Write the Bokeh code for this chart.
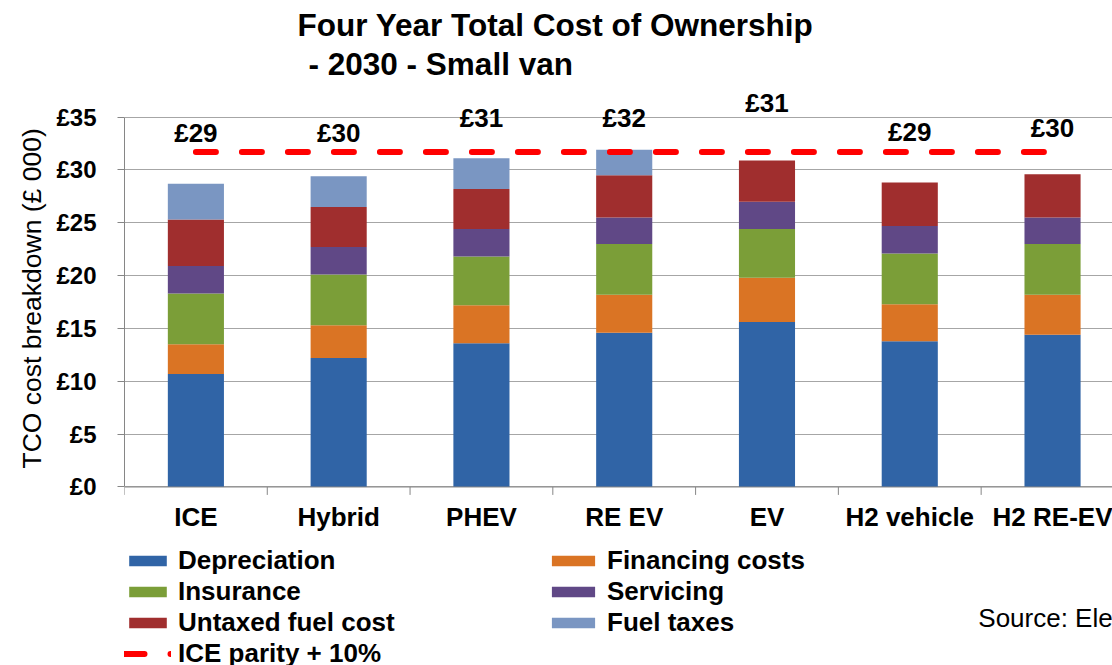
from bokeh.plotting import figure
from bokeh.models import (ColumnDataSource, Range1d, FixedTicker, PrintfTickFormatter,
                          Legend, LegendItem, LabelSet, Label, Span, Title)
from bokeh.core.properties import value
from bokeh.embed import file_html
from bokeh.resources import INLINE

# ---- data ----
categories = ["ICE", "Hybrid", "PHEV", "RE EV", "EV", "H2 vehicle", "H2 RE-EV"]
depreciation = [10.7, 12.2, 13.6, 14.6, 15.6, 13.8, 14.4]
financing = [2.8, 3.1, 3.6, 3.6, 4.2, 3.5, 3.8]
insurance = [4.8, 4.8, 4.6, 4.8, 4.6, 4.8, 4.8]
servicing = [2.6, 2.6, 2.6, 2.5, 2.6, 2.6, 2.5]
untaxed_fuel = [4.4, 3.8, 3.8, 4.0, 3.9, 4.1, 4.1]
fuel_taxes = [3.4, 2.9, 2.9, 2.4, 0.0, 0.0, 0.0]
total_labels = ["£29", "£30", "£31", "£32", "£31", "£29", "£30"]
label_y = [33.5, 33.5, 34.9, 34.9, 36.3, 33.6, 34.0]
ice_parity = [31.7, 31.7, 31.7, 31.7, 31.7, 31.7, 31.7]
y_ticks = [0, 5, 10, 15, 20, 25, 30, 35]

series = ["Depreciation", "Financing costs", "Insurance", "Servicing",
          "Untaxed fuel cost", "Fuel taxes"]
colors = ["#3064A6", "#DA7424", "#7B9E38", "#604886", "#A02E2E", "#7A96C2"]

FONT = "Liberation Sans"
AXIS_COL = "#868686"

xc = [i + 0.5 for i in range(len(categories))]
bounds = list(range(len(categories)))
src = ColumnDataSource(dict(
    x=xc, cat=categories,
    **{"Depreciation": depreciation, "Financing costs": financing,
       "Insurance": insurance, "Servicing": servicing,
       "Untaxed fuel cost": untaxed_fuel, "Fuel taxes": fuel_taxes},
    label=total_labels, ly=label_y, parity=ice_parity))

# frame covers the canvas except the left axis panel; the value axis spans 0..35
p = figure(width=1112, height=665, output_backend="svg", toolbar_location=None,
           x_range=Range1d(0, 6.92), y_range=Range1d(-16.89, 46.03),
           min_border_left=124, min_border_right=0, min_border_top=0,
           min_border_bottom=0)
p.outline_line_color = None
p.background_fill_color = "white"
p.border_fill_color = "white"
p.xaxis.visible = False

bars = p.vbar_stack(series, x="x", width=0.393, source=src, color=colors,
                    line_color=None)
line = p.line(x="x", y="parity", source=src, line_color="#FF0000", line_width=6,
              line_dash="20 26", line_cap="round")

# grid & value axis
p.xgrid.grid_line_color = None
p.ygrid.grid_line_color = "#A6A6A6"
p.ygrid.grid_line_width = 1
p.ygrid.ticker = FixedTicker(ticks=y_ticks)

p.yaxis.ticker = FixedTicker(ticks=y_ticks)
p.yaxis.bounds = (0, 35)
p.yaxis.formatter = PrintfTickFormatter(format="£%d")
p.yaxis.axis_line_color = AXIS_COL
p.yaxis.major_tick_line_color = AXIS_COL
p.yaxis.major_tick_out = 7
p.yaxis.major_tick_in = 0
p.yaxis.minor_tick_line_color = None
p.yaxis.major_label_standoff = 21
p.yaxis.major_label_text_font = FONT
p.yaxis.major_label_text_font_style = "bold"
p.yaxis.major_label_text_font_size = "24px"
p.yaxis.major_label_text_color = "black"

# value-axis title, placed beside the axis along the 0..35 span
p.add_layout(Title(text="TCO cost breakdown (£ 000)", align="left", offset=197,
                   standoff=13, text_font=FONT, text_font_style="normal",
                   text_font_size="26.5px", text_color="black"), "left")

# category axis: baseline, boundary ticks, labels
p.add_layout(Span(location=0, dimension="width", line_color=AXIS_COL, line_width=1))
p.segment(x0=bounds, y0=[0] * len(bounds), x1=bounds, y1=[-0.75] * len(bounds),
          line_color=AXIS_COL, line_width=1)
p.text(x="x", y=-2.88, text="cat", source=src, text_align="center",
       text_baseline="middle", text_font=value(FONT), text_font_style="bold",
       text_font_size="26px", text_color="black")

# total labels
p.add_layout(LabelSet(x="x", y="ly", text="label", source=src, text_align="center",
                      text_baseline="middle", text_font=value(FONT),
                      text_font_style="bold", text_font_size="26px",
                      text_color="black"))

# title and source
p.add_layout(Label(x=3.018, y=43.71, text="Four Year Total Cost of Ownership",
                   text_align="center", text_baseline="middle", text_font=FONT,
                   text_font_style="bold", text_font_size="31.5px", text_color="black"))
p.add_layout(Label(x=1.289, y=40.02, text="- 2030 - Small van",
                   text_align="left", text_baseline="middle", text_font=FONT,
                   text_font_style="bold", text_font_size="31.5px", text_color="black"))
p.add_layout(Label(x=5.98, y=-12.39, text="Source: Element Energy",
                   text_align="left", text_baseline="middle", text_font=FONT,
                   text_font_style="normal", text_font_size="26px", text_color="black"))

# legends
def mk_legend(items, loc, gw):
    return Legend(items=items, location=loc, orientation="vertical",
                  glyph_width=gw, glyph_height=13, label_standoff=7, label_height=31,
                  spacing=0, padding=0, margin=0, border_line_color=None,
                  background_fill_alpha=0, label_text_font=FONT,
                  label_text_font_style="bold", label_text_font_size="26px",
                  label_text_color="black")

col1 = [LegendItem(label="Depreciation", renderers=[bars[0]]),
        LegendItem(label="Insurance", renderers=[bars[2]]),
        LegendItem(label="Untaxed fuel cost", renderers=[bars[4]]),
        LegendItem(label="ICE parity + 10%", renderers=[line])]
col2 = [LegendItem(label="Financing costs", renderers=[bars[1]]),
        LegendItem(label="Servicing", renderers=[bars[3]]),
        LegendItem(label="Fuel taxes", renderers=[bars[5]])]
p.add_layout(mk_legend(col1, (0, -4), 47))
p.add_layout(mk_legend(col2, (422, 27), 54))

open("out.html", "w").write(file_html(p, INLINE))
